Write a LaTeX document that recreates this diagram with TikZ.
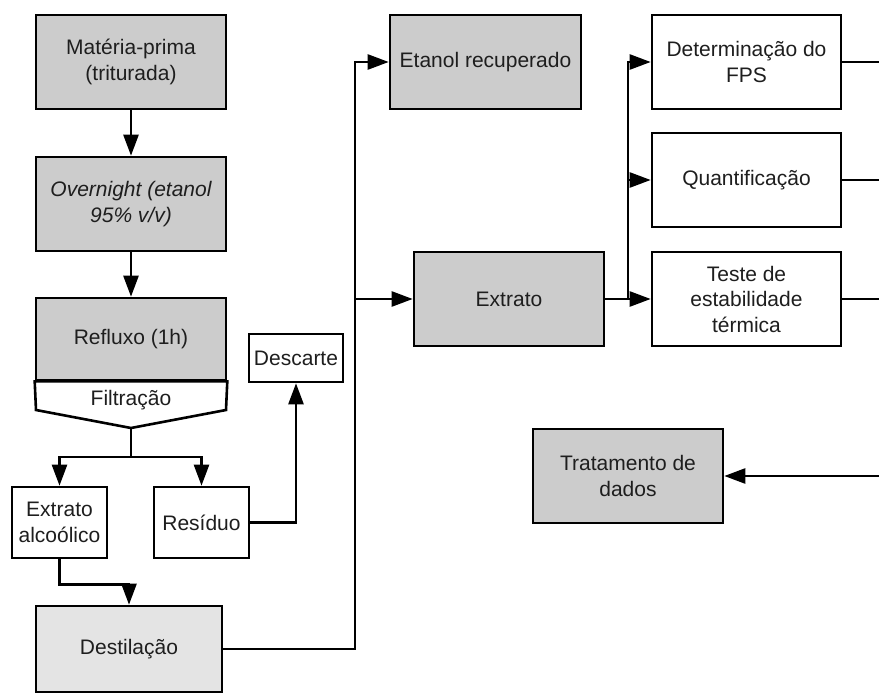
\documentclass[tikz,border=0pt]{standalone}
\usepackage{fontspec}
\setmainfont{Liberation Sans}
\usetikzlibrary{arrows.meta}
\definecolor{boxgray}{HTML}{CCCCCC}
\definecolor{lightgray2}{HTML}{E4E4E4}
\definecolor{txt}{HTML}{1E1E1E}
\begin{document}
\begin{tikzpicture}[x=1pt,y=-1pt,
  every node/.style={font=\fontsize{21}{25.5}\selectfont, text=txt, align=center, inner sep=0pt},
  box/.style={draw=black, line width=2.6pt, rectangle, minimum width=190pt, minimum height=94pt},
  graybox/.style={box, fill=boxgray},
  whitebox/.style={box, fill=white},
  conn/.style={draw=black, line width=2.5pt},
  arr/.style={conn, -{Triangle[length=21pt,width=15pt]}}]
\useasboundingbox (0,0) rectangle (879,696);
% left column
\node[graybox] (mp) at (131,62) {Matéria-prima\\(triturada)};
\node[graybox] (ov) at (131,204) {\itshape Overnight (etanol\\\itshape 95\% v/v)};
\node[graybox, minimum height=82pt] (re) at (131,339) {Refluxo (1h)};
\draw[line width=2.6pt, fill=white, line join=miter] (re.south west) -- (36,410) -- (131,428) -- (226,410) -- (re.south east) -- cycle;
\coordinate (fp) at (131,428);
\node (fi) at (131,400) {Filtração};
\node[whitebox, minimum width=95pt, minimum height=71pt] (ea) at (59.5,522.5) {Extrato\\alcoólico};
\node[whitebox, minimum width=95pt, minimum height=71pt] (rs) at (201.5,522.5) {Resíduo};
\node[whitebox, minimum width=94pt, minimum height=48pt] (ds) at (296,358) {Descarte};
\node[box, fill=lightgray2, minimum width=186pt, minimum height=86pt] (dt) at (129,649) {Destilação};
% middle
\node[graybox, minimum width=191pt] (et) at (485.5,62) {Etanol recuperado};
\node[graybox] (ex) at (509,299) {Extrato};
% right
\node[whitebox, minimum width=189pt] (fps) at (746.5,62) {Determinação do\\FPS};
\node[whitebox, minimum width=189pt] (qt) at (746.5,180) {Quantificação};
\node[whitebox, minimum width=189pt] (tt) at (746.5,299) {Teste de\\estabilidade\\térmica};
\node[graybox] (td) at (628,476) {Tratamento de\\dados};
% helper coordinates
\coordinate (bx) at (355,0);
\coordinate (by) at (628,0);
\coordinate (edge) at (879,0);
% connectors
\draw[arr] (mp.south) -- (ov.north);
\draw[arr] (ov.south) -- (re.north);
\draw[arr] (fp) -- ++(0,29) -| (ea.north);
\draw[arr] (fp) -- ++(0,29) -| (rs.north);
\draw[arr] (rs.east) -| (ds.south);
\draw[arr] (ea.south) -- ++(0,25) -| (dt.north);
\draw[arr] (dt.east) -- (dt.east -| bx) |- (et.west);
\draw[arr] (bx |- ex.west) -- (ex.west);
\draw[arr] (ex.east) -- (tt.west);
\draw[arr] (ex.east -| by) |- (fps.west);
\draw[arr] (by |- qt.west) -- (qt.west);
\draw[conn] (fps.east) -- (fps.east -| edge);
\draw[conn] (qt.east) -- (qt.east -| edge);
\draw[conn] (tt.east) -- (tt.east -| edge);
\draw[arr] (edge |- td.east) -- (td.east);
\end{tikzpicture}
\end{document}
